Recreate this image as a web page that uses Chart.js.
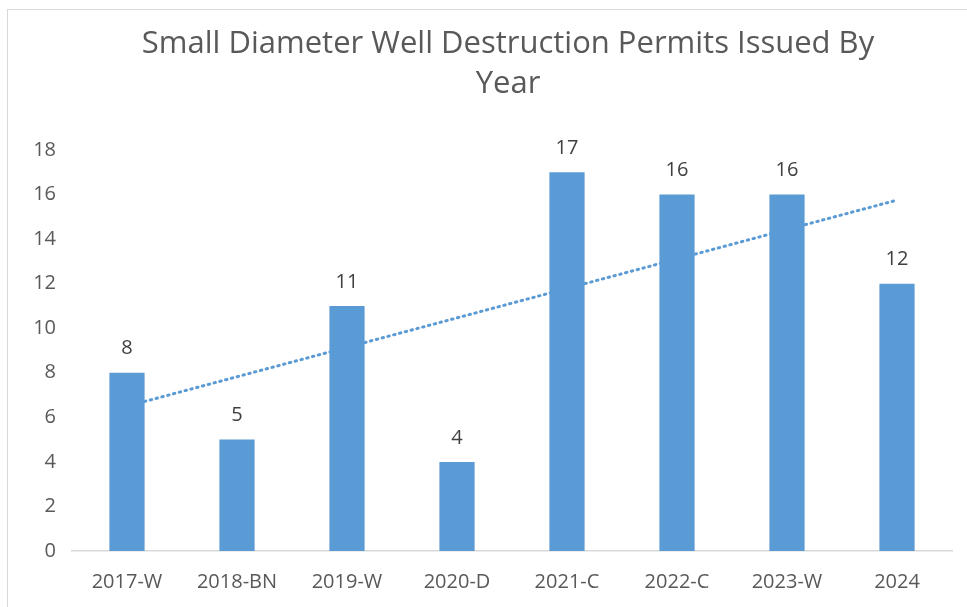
<!DOCTYPE html>
<html><head><meta charset="utf-8">
<script src="https://cdn.jsdelivr.net/npm/chart.js@4"></script>
<style>
html,body{margin:0;padding:0;background:#fff;overflow:hidden;width:967px;height:607px}
#frame{position:absolute;left:7px;top:9px;width:1000px;height:610px;border-left:1px solid #d9d9d9;border-top:1px solid #d9d9d9}
#wrap{position:absolute;left:0;top:0;width:1000px;height:597px}
</style></head><body>
<div id="frame"><div id="wrap"><canvas id="c"></canvas></div></div>
<script>
const titleLines = ['Small Diameter Well Destruction Permits Issued By', 'Year'];
const categories = ['2017-W', '2018-BN', '2019-W', '2020-D', '2021-C', '2022-C', '2023-W', '2024'];
const permits = [8, 5, 11, 4, 17, 16, 16, 12];
const trendline = [6.5, null, null, null, null, null, null, 15.75];
const yMin = 0, yMax = 18, yStep = 2;

const FONT = '"Open Sans", "DejaVu Sans", sans-serif';
const TEXT = '#595959';
const BLUE = '#5B9BD5';

const valueLabels = {
  id: 'valueLabels',
  afterDatasetsDraw(chart) {
    const ctx = chart.ctx;
    const meta = chart.getDatasetMeta(0);
    ctx.save();
    ctx.font = '20px ' + FONT;
    ctx.fillStyle = '#404040';
    ctx.textAlign = 'center';
    ctx.textBaseline = 'middle';
    meta.data.forEach((bar, i) => {
      ctx.fillText(String(permits[i]), bar.x, bar.y - 24);
    });
    ctx.restore();
  }
};

new Chart(document.getElementById('c'), {
  data: {
    labels: categories,
    datasets: [
      {
        type: 'bar',
        label: 'Permits',
        data: permits,
        backgroundColor: BLUE,
        borderWidth: 0,
        categoryPercentage: 1,
        barPercentage: 0.32,
        order: 0
      },
      {
        type: 'line',
        label: 'Linear trend',
        data: trendline,
        spanGaps: true,
        borderColor: BLUE,
        borderWidth: 3,
        borderDash: [1.5, 4.5],
        borderCapStyle: 'round',
        pointRadius: 0,
        fill: false,
        tension: 0,
        order: 1
      }
    ]
  },
  options: {
    responsive: true,
    maintainAspectRatio: false,
    animation: false,
    layout: { padding: 0 },
    plugins: {
      legend: { display: false },
      tooltip: { enabled: false },
      title: {
        display: true,
        text: titleLines,
        color: TEXT,
        font: { family: FONT, size: 31, weight: 'normal', lineHeight: 1.29 },
        padding: { top: 14, bottom: 46 }
      }
    },
    scales: {
      x: {
        grid: { display: false, drawTicks: false },
        border: { display: true, color: '#d9d9d9', width: 1.5 },
        ticks: { color: TEXT, font: { family: FONT, size: 20 }, padding: 19, maxRotation: 0 },
        afterFit: s => { s.height = 56; }
      },
      y: {
        min: yMin, max: yMax,
        grid: { display: false, drawTicks: false },
        border: { display: false },
        ticks: { stepSize: yStep, color: TEXT, font: { family: FONT, size: 20 }, padding: 16 },
        afterFit: s => { s.width = 64; }
      },
      spacer: {
        type: 'linear',
        position: 'right',
        display: true,
        grid: { display: false, drawTicks: false },
        border: { display: false },
        ticks: { display: false },
        afterFit: s => { s.width = 56; }
      }
    }
  },
  plugins: [valueLabels]
});
</script>
</body></html>
